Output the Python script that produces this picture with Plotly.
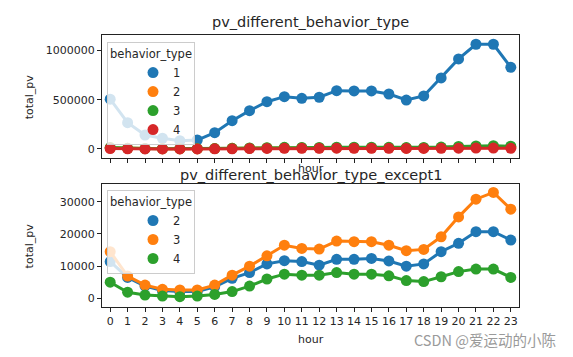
import plotly.graph_objects as go

hours = list(range(24))
hour_labels = [str(h) for h in hours]

# total pv per hour, by behavior type
pv_type1 = [505000, 267000, 142000, 109000, 84000, 91000, 166000, 287000, 389000, 480000,
            531000, 514000, 525000, 592000, 589000, 589000, 558000, 497000, 538000, 721000,
            914000, 1063000, 1063000, 829000]
pv_type2 = [11400, 6500, 3800, 2400, 2100, 2100, 3600, 6200, 8000, 10700,
            11700, 11400, 10300, 12100, 12100, 12400, 11600, 10000, 10700, 14500,
            17100, 20700, 20700, 18100]
pv_type3 = [14500, 6900, 4100, 2800, 2600, 2600, 4100, 7200, 10000, 13200,
            16500, 15500, 15300, 17800, 17600, 17600, 16500, 14800, 15200, 19100,
            25300, 30800, 32900, 27700]
pv_type4 = [5000, 1900, 1000, 700, 500, 700, 1200, 2100, 3800, 6000,
            7500, 7200, 7200, 8000, 7500, 7500, 7000, 5500, 5200, 6700,
            8300, 9100, 9100, 6500]

type_names_top = ["1", "2", "3", "4"]
type_names_bottom = ["2", "3", "4"]
palette = ["#1f77b4", "#ff7f0e", "#2ca02c", "#d62728"]

top_series = [pv_type1, pv_type2, pv_type3, pv_type4]
bottom_series = [pv_type2, pv_type3, pv_type4]

MS = 11
LW = 3
fig = go.Figure()

for name, vals, col in zip(type_names_top, top_series, palette):
    fig.add_trace(go.Scatter(x=hours, y=vals, mode="lines+markers", xaxis="x", yaxis="y",
                             line=dict(color=col, width=LW), marker=dict(color=col, size=MS),
                             showlegend=False))
for name, col in zip(type_names_top, palette):
    fig.add_trace(go.Scatter(x=[None], y=[None], mode="markers", xaxis="x", yaxis="y",
                             marker=dict(color=col, size=MS), name=name, legend="legend"))

for name, vals, col in zip(type_names_bottom, bottom_series, palette):
    fig.add_trace(go.Scatter(x=hours, y=vals, mode="lines+markers", xaxis="x2", yaxis="y2",
                             line=dict(color=col, width=LW), marker=dict(color=col, size=MS),
                             showlegend=False))
for name, col in zip(type_names_bottom, palette):
    fig.add_trace(go.Scatter(x=[None], y=[None], mode="markers", xaxis="x2", yaxis="y2",
                             marker=dict(color=col, size=MS), name=name, legend="legend2"))

FONT = "DejaVu Sans"
TXT = "#262626"
axis_common = dict(showline=True, linecolor="#222", linewidth=1, mirror=True,
                   ticks="outside", ticklen=4, tickcolor="#222", showgrid=False,
                   zeroline=False, tickfont=dict(family=FONT, size=11, color=TXT))

legend_common = dict(bgcolor="rgba(255,255,255,0.8)", bordercolor="#cccccc", borderwidth=1,
                     font=dict(family=FONT, size=11.5, color=TXT), xanchor="left", yanchor="top",
                     itemwidth=30, indentation=25, tracegroupgap=0)


def ann(text, x, y, size=11, angle=0, family=FONT, color=TXT):
    return dict(text=text, x=x, y=y, xref="paper", yref="paper", xanchor="center",
                yanchor="middle", showarrow=False, textangle=angle,
                font=dict(size=size, family=family, color=color))


fig.update_layout(
    width=565, height=349,
    margin=dict(l=94, r=54, t=27, b=50),
    paper_bgcolor="white", plot_bgcolor="white",
    font=dict(family=FONT, size=11, color=TXT),
    xaxis=dict(domain=[0, 1], anchor="y", range=[-0.47, 23.47], tickvals=hours,
               showticklabels=False, **axis_common),
    yaxis=dict(domain=[0.548, 1], anchor="x", range=[-91000, 1157000],
               tickvals=[0, 500000, 1000000], ticktext=["0", "500000", "1000000"], **axis_common),
    xaxis2=dict(domain=[0, 1], anchor="y2", range=[-0.47, 23.47], tickvals=hours,
                ticktext=hour_labels, **axis_common),
    yaxis2=dict(domain=[0, 0.452], anchor="x2", range=[-2700, 35500],
                tickvals=[0, 10000, 20000, 30000], ticktext=["0", "10000", "20000", "30000"],
                **axis_common),
    legend=dict(x=0.012, y=0.974,
                title=dict(text="behavior_type", side="top center",
                           font=dict(family=FONT, size=11.5, color=TXT)),
                **legend_common),
    legend2=dict(x=0.012, y=0.430,
                 title=dict(text="behavior_type", side="top center",
                            font=dict(family=FONT, size=11.5, color=TXT)),
                 **legend_common),
    annotations=[
        ann("pv_different_behavior_type", 0.5, 1.048, size=14.5),
        ann("hour", 0.5, 0.511),
        ann("pv_different_behavior_type_except1", 0.5, 0.485, size=14.5),
        ann("hour", 0.5, -0.121),
        ann("total_pv", -0.173, 0.774, angle=-90),
        ann("total_pv", -0.173, 0.226, angle=-90),
        ann("CSDN @爱运动的小陈", 0.918, -0.121, size=14.5, family="Noto Sans CJK SC",
            color="#9a9a9a"),
    ],
)

fig.write_html("out.html")
